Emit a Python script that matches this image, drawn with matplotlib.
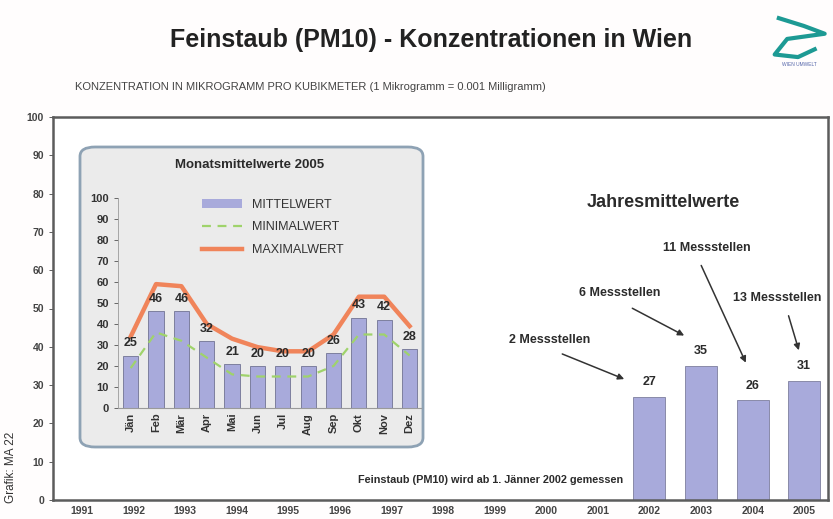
import matplotlib
matplotlib.use("Agg")
from matplotlib import pyplot as plt
from matplotlib.patches import FancyBboxPatch, Patch
from matplotlib.lines import Line2D

plt.rcParams['font.family'] = ['Liberation Sans', 'DejaVu Sans']

# Jahresmittelwerte
years = list(range(1991, 2006))
year_bars = [2002, 2003, 2004, 2005]
year_values = [27, 35, 26, 31]

# Monatsmittelwerte 2005
months = ['Jän', 'Feb', 'Mär', 'Apr', 'Mai', 'Jun',
          'Jul', 'Aug', 'Sep', 'Okt', 'Nov', 'Dez']
mittel = [25, 46, 46, 32, 21, 20, 20, 20, 26, 43, 42, 28]
minimal = [19, 36, 32, 24, 16, 15, 15, 15, 20, 35, 35, 25]
maximal = [34, 59, 58, 40, 33, 29, 27, 27, 35, 53, 53, 39]

# Messstellen-Hinweise: text, Textposition, Pfeilanfang, Pfeilende
notes = ['2 Messstellen', '6 Messstellen', '11 Messstellen', '13 Messstellen']
note_text_xy = [(2000.07, 41.8), (2001.43, 54.0), (2003.11, 65.8), (2004.47, 52.7)]
note_arrow_from = [(2000.26, 38.4), (2001.62, 50.4), (2002.98, 61.9), (2004.68, 48.8)]
note_arrow_to = [(2001.56, 31.3), (2002.72, 42.6), (2003.89, 35.2), (2004.91, 38.4)]

BAR = '#a8aadb'
BAR_EDGE = '#7d7f9e'
TXT = '#2b2b2b'

fig = plt.figure(figsize=(8.33, 5.19), dpi=100)
fig.patch.set_facecolor('#fffdfd')

fig.text(0.518, 0.923, 'Feinstaub (PM10) - Konzentrationen in Wien',
         ha='center', va='center', fontsize=18, fontweight='bold', color='#222222')
fig.text(0.09, 0.832,
         'KONZENTRATION IN MIKROGRAMM PRO KUBIKMETER (1 Mikrogramm = 0.001 Milligramm)',
         ha='left', va='center', fontsize=8, color='#444444')
fig.text(0.013, 0.1, 'Grafik: MA 22', rotation=90, ha='center', va='center',
         fontsize=8.5, color='#333333')

# kleines Logo
logo_x = [0.935, 0.965, 0.99, 0.945, 0.93, 0.958, 0.978]
logo_y = [0.965, 0.95, 0.935, 0.925, 0.895, 0.89, 0.905]
fig.add_artist(Line2D(logo_x, logo_y, color='#1d9a94', lw=3,
                      transform=fig.transFigure))
fig.text(0.96, 0.875, 'WIEN UMWELT', ha='center', va='center',
         fontsize=3.5, color='#5566aa')

# Hauptdiagramm
ax = fig.add_axes([53 / 833, 19 / 519, 775 / 833, 383 / 519])
ax.set_facecolor('white')
ax.bar(year_bars, year_values, width=0.62, color=BAR, edgecolor=BAR_EDGE,
       linewidth=0.6, zorder=2)
for x, v in zip(year_bars, year_values):
    ax.text(x, v + 2.3, str(v), ha='center', va='bottom', fontsize=9,
            fontweight='bold', color=TXT)
ax.set_xlim(1990.44, 2005.46)
ax.set_ylim(0, 100)
ax.set_xticks(years)
ax.set_xticklabels([str(y) for y in years])
ax.set_yticks(range(0, 101, 10))
ax.tick_params(axis='both', labelsize=7.5, colors='#444444', length=3, width=0.6)
ax.tick_params(axis='x', length=0, pad=4)
for lab in ax.get_xticklabels() + ax.get_yticklabels():
    lab.set_fontweight('bold')
for s in ax.spines.values():
    s.set_color('#5c5c5c')
    s.set_linewidth(1.8)

ax.text(2002.26, 77.8, 'Jahresmittelwerte', ha='center', va='center',
        fontsize=13, fontweight='bold', color=TXT)
for t, txy, a0, a1 in zip(notes, note_text_xy, note_arrow_from, note_arrow_to):
    ax.text(txy[0], txy[1], t, ha='center', va='center', fontsize=9,
            fontweight='bold', color=TXT)
    ax.annotate('', xy=a1, xytext=a0,
                arrowprops=dict(arrowstyle='-|>', color='#333333', lw=1.1,
                                mutation_scale=9))
ax.text(2001.48, 5.2, 'Feinstaub (PM10) wird ab 1. Jänner 2002 gemessen',
        ha='right', va='center', fontsize=7.8, fontweight='bold', color=TXT)

# Inset-Rahmen
box = FancyBboxPatch((80 / 833, 72 / 519), 343 / 833, 300 / 519,
                     boxstyle='round,pad=0,rounding_size=0.018',
                     transform=fig.transFigure, facecolor='#ebebeb',
                     edgecolor='#8ea2b4', linewidth=2, zorder=1)
fig.add_artist(box)
fig.text(250 / 833, 1 - 165 / 519, 'Monatsmittelwerte 2005', ha='center',
         va='center', fontsize=9.5, fontweight='bold', color=TXT, zorder=3)

ins = fig.add_axes([118 / 833, 111 / 519, 303 / 833, 210 / 519], zorder=2)
ins.patch.set_alpha(0)
mx = range(len(months))
ins.bar(mx, mittel, width=0.6, color=BAR, edgecolor=BAR_EDGE, linewidth=0.7,
        zorder=2)
ins.plot(mx, minimal, color='#9fd36b', lw=1.6, ls=(0, (4, 3)), zorder=3)
ins.plot(mx, maximal, color='#f0845a', lw=3.2, zorder=3,
         solid_joinstyle='round')
for x, v in zip(mx, mittel):
    ins.text(x, v + 3, str(v), ha='center', va='bottom', fontsize=9,
             fontweight='bold', color=TXT, zorder=4)
ins.set_xlim(-0.5, 11.45)
ins.set_ylim(0, 100)
ins.set_yticks(range(0, 101, 10))
ins.set_xticks(list(mx))
ins.set_xticklabels(months, rotation=90)
ins.tick_params(axis='both', labelsize=8, colors='#333333', length=3,
                width=0.5)
ins.tick_params(axis='x', length=0)
for lab in ins.get_xticklabels() + ins.get_yticklabels():
    lab.set_fontweight('bold')
for side in ['top', 'right']:
    ins.spines[side].set_visible(False)
ins.spines['left'].set_color('#9a9a9a')
ins.spines['bottom'].set_color('#9a9a9a')
ins.spines['left'].set_linewidth(0.6)
ins.spines['bottom'].set_linewidth(0.8)

handles = [Patch(facecolor=BAR, edgecolor='none'),
           Line2D([], [], color='#9fd36b', lw=1.6, ls=(0, (4, 3))),
           Line2D([], [], color='#f0845a', lw=3.2)]
ins.legend(handles, ['MITTELWERT', 'MINIMALWERT', 'MAXIMALWERT'],
           loc='upper left', bbox_to_anchor=(0.26, 1.02), frameon=False,
           fontsize=9, handlelength=3.2, labelspacing=0.85,
           labelcolor='#333333', borderaxespad=0)

fig.savefig('out.png', dpi=100, facecolor=fig.get_facecolor())
